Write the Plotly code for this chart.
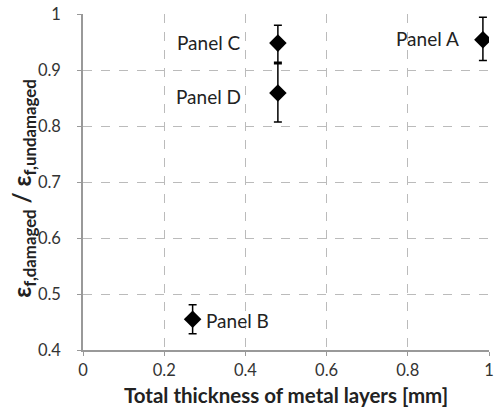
import plotly.graph_objects as go

labels = ["Panel A", "Panel B", "Panel C", "Panel D"]
thickness = [0.985, 0.27, 0.48, 0.48]
ratio = [0.954, 0.455, 0.948, 0.859]
err_plus = [0.040, 0.026, 0.032, 0.052]
err_minus = [0.037, 0.026, 0.034, 0.052]
label_side = ["left", "right", "left", "left"]
label_shift = [-22, 11, -35, -35]
label_yshift = [1, -1, 1, -4]

x_ticks = [0, 0.2, 0.4, 0.6, 0.8, 1]
x_ticklabels = ["0", "0.2", "0.4", "0.6", "0.8", "1"]
y_ticks = [0.4, 0.5, 0.6, 0.7, 0.8, 0.9, 1]
y_ticklabels = ["0.4", "0.5", "0.6", "0.7", "0.8", "0.9", "1"]

font = "Lato, Open Sans, sans-serif"

fig = go.Figure()
# invisible companion trace so the short visible tick marks axis (y2) renders
fig.add_trace(go.Scatter(
    x=thickness, y=ratio, mode="markers", yaxis="y2",
    marker=dict(size=1, opacity=0), hoverinfo="skip", showlegend=False,
))
fig.add_trace(go.Scatter(
    x=thickness, y=ratio, mode="markers",
    marker=dict(symbol="diamond", size=13.5, color="black"),
    error_y=dict(type="data", array=err_plus, arrayminus=err_minus,
                 color="black", thickness=1.5, width=4),
    showlegend=False,
))

for lab, x, y, side, dx, dy in zip(labels, thickness, ratio, label_side, label_shift, label_yshift):
    fig.add_annotation(
        x=x, y=y, text=lab, showarrow=False,
        xanchor="right" if side == "left" else "left",
        xshift=dx, yshift=dy,
        font=dict(family=font, size=19, color="#222"),
    )

fig.add_annotation(
    xref="paper", yref="paper", x=0, y=0.48, xshift=-59,
    text="<b>ε<sub>f,damaged</sub> / ε<sub>f,undamaged</sub></b>",
    textangle=-90, showarrow=False, xanchor="center", yanchor="middle",
    font=dict(family=font, size=24, color="#222"),
)

fig.update_layout(
    width=494, height=417,
    margin=dict(l=83, r=5, t=14, b=67),
    paper_bgcolor="white", plot_bgcolor="white",
    font=dict(family=font, size=16.5, color="#333"),
    yaxis2=dict(
        overlaying="y", side="left", anchor="x", range=[0.4, 1],
        tickvals=y_ticks, showticklabels=False, showgrid=False,
        zeroline=False, showline=False,
        ticks="outside", ticklen=5, tickcolor="#999999",
    ),
)
fig.update_xaxes(
    range=[0, 1], tickvals=x_ticks, ticktext=x_ticklabels,
    showgrid=True, gridcolor="#bbbbbb", griddash="dash", gridwidth=1,
    showline=True, linecolor="#999999", linewidth=1.5,
    ticks="outside", ticklen=4, tickcolor="#999999",
    zeroline=False, automargin=False, ticklabeloverflow="allow",
    title=dict(text="<b>Total thickness of metal layers [mm]</b>",
               font=dict(family=font, size=20.5, color="#222"), standoff=10),
)
fig.update_yaxes(
    selector=dict(anchor="x", overlaying=None),
    range=[0.4, 1], tickvals=y_ticks, ticktext=y_ticklabels,
    showgrid=True, gridcolor="#bbbbbb", griddash="dash", gridwidth=1,
    showline=True, linecolor="#999999", linewidth=1.5,
    ticks="outside", ticklen=17, tickcolor="rgba(0,0,0,0)",
    zeroline=False, automargin=False, ticklabeloverflow="allow",
)
fig.update_layout(yaxis=dict(
    range=[0.4, 1], tickvals=y_ticks, ticktext=y_ticklabels,
    showgrid=True, gridcolor="#bbbbbb", griddash="dash", gridwidth=1,
    showline=True, linecolor="#999999", linewidth=1.5,
    ticks="outside", ticklen=17, tickcolor="rgba(0,0,0,0)",
    zeroline=False, automargin=False, ticklabeloverflow="allow",
))

fig.write_html("out.html")
